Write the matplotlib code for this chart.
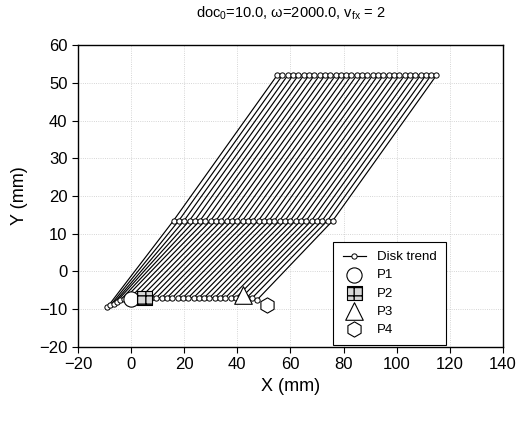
import matplotlib
matplotlib.use("Agg")
import matplotlib.pyplot as plt

# Disk trend points: bottom row, middle row, top row (x, y in mm)
bottom_x = [-9.0, -7.8, -6.6, -5.4, -4.0, -2.5, -0.5, 1.5, 3.5, 5.5, 7.5, 9.5, 11.5,
            13.5, 15.5, 17.5, 19.5, 21.5, 23.5, 25.5, 27.5, 29.5, 31.5, 33.5, 35.5,
            37.5, 39.5, 41.5, 43.5, 45.5, 47.5]
bottom_y = [-9.5, -9.0, -8.5, -8.0, -7.6, -7.3, -7.1, -7.0, -7.0, -7.0, -7.0, -7.0, -7.0,
            -7.0, -7.0, -7.0, -7.0, -7.0, -7.0, -7.0, -7.0, -7.0, -7.0, -7.0, -7.0,
            -7.0, -7.0, -7.0, -7.0, -7.1, -7.5]
middle_x = [16, 18, 20, 22, 24, 26, 28, 30, 32, 34, 36, 38, 40, 42, 44, 46, 48, 50,
            52, 54, 56, 58, 60, 62, 64, 66, 68, 70, 72, 74, 76]
middle_y = [13.5] * 31
top_x = [55, 57, 59, 61, 63, 65, 67, 69, 71, 73, 75, 77, 79, 81, 83, 85, 87, 89,
         91, 93, 95, 97, 99, 101, 103, 105, 107, 109, 111, 113, 115]
top_y = [52.0] * 31

# Special points
p1 = (0.0, -7.3)
p2 = (5.0, -7.0)
p3 = (42.0, -6.3)
p4 = (51.0, -8.8)

title = r"doc$_0$=10.0, $\omega$=2000.0, v$_{fx}$ = 2"
xticks = [-20, 0, 20, 40, 60, 80, 100, 120, 140]
yticks = [-20, -10, 0, 10, 20, 30, 40, 50, 60]

plt.rcParams['font.family'] = ['Liberation Sans', 'DejaVu Sans']
plt.rcParams['mathtext.fontset'] = 'custom'
plt.rcParams['mathtext.rm'] = 'Liberation Sans'
plt.rcParams['mathtext.it'] = 'Liberation Sans'

fig = plt.figure(figsize=(5.2, 4.21), dpi=100)
ax = fig.add_axes([0.15, 0.176, 0.817, 0.717])

# build zigzag polyline through bottom->middle->top for each disk point
xs, ys = [], []
for i in range(len(top_x)):
    trip_x = [bottom_x[i], middle_x[i], top_x[i]]
    trip_y = [bottom_y[i], middle_y[i], top_y[i]]
    if i % 2 == 1:
        trip_x = trip_x[::-1]
        trip_y = trip_y[::-1]
    xs += trip_x
    ys += trip_y

ax.plot(xs, ys, color='black', lw=0.85, marker='o', ms=3.8, mfc='white',
        mec='black', mew=0.7, label='Disk trend', zorder=3)
ax.scatter([p1[0]], [p1[1]], s=120, marker='o', facecolor='white', edgecolor='black',
           lw=0.8, label='P1', zorder=4)
ax.scatter([p2[0]], [p2[1]], s=110, marker='s', facecolor='#d8d8d8', edgecolor='black',
           lw=0.8, hatch='++', label='P2', zorder=4)
ax.scatter([p3[0]], [p3[1]], s=160, marker='^', facecolor='white', edgecolor='black',
           lw=0.8, label='P3', zorder=4)
ax.scatter([p4[0]], [p4[1]], s=120, marker='h', facecolor='white', edgecolor='black',
           lw=0.8, label='P4', zorder=4)

ax.set_xlim(-20, 140)
ax.set_ylim(-20, 60)
ax.set_xticks(xticks)
ax.set_yticks(yticks)
ax.tick_params(direction='out', labelsize=12, length=4, width=0.8)
ax.grid(True, ls=':', color='#c8c8c8', lw=0.6)
ax.set_axisbelow(True)
for s in ax.spines.values():
    s.set_linewidth(1.0)

ax.set_xlabel('X (mm)', fontsize=13)
ax.set_ylabel('Y (mm)', fontsize=13, labelpad=8)
ax.set_title(title, fontsize=10.5, pad=20)

leg = ax.legend(loc='lower right', bbox_to_anchor=(0.866, 0.006), borderaxespad=0,
                fontsize=9.5, frameon=True, fancybox=False, edgecolor='black',
                framealpha=1, handlelength=1.8, borderpad=0.7, labelspacing=0.45,
                handletextpad=0.8)
leg.get_frame().set_linewidth(0.8)

fig.savefig('out.png', dpi=100)
